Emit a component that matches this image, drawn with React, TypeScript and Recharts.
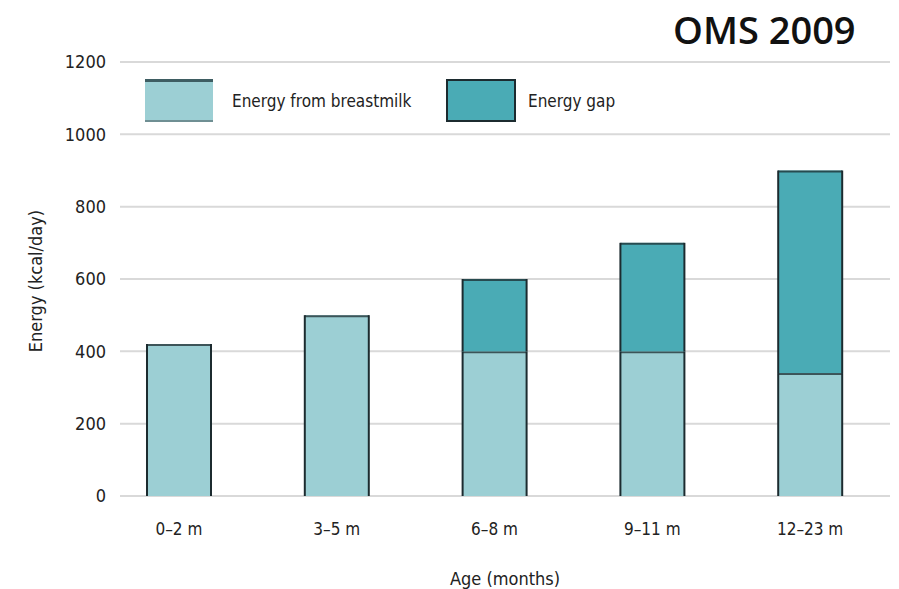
import React from 'react';
import { BarChart, Bar, XAxis, YAxis, CartesianGrid } from 'recharts';

// Age groups and daily energy needs (kcal/day)
const ages = ['0–2 m', '3–5 m', '6–8 m', '9–11 m', '12–23 m'];
const breastmilk = [420, 500, 400, 400, 340];
const energyGap = [0, 0, 200, 300, 560];
const yTicks = [0, 200, 400, 600, 800, 1000, 1200];
const seriesNames = ['Energy from breastmilk', 'Energy gap'];

const data = ages.map((age, i) => ({ age, breastmilk: breastmilk[i], gap: energyGap[i] }));

const LIGHT = '#9ccfd4';
const DARK = '#4aabb5';
const EDGE = '#1c2b2f';
const FONT = '"Liberation Sans Narrow", "DejaVu Sans Condensed", "Roboto", sans-serif';

const BarShape = (props: any) => {
  const { x, y, width, height, fill } = props;
  if (!height || height <= 0) return null;
  return (
    <g>
      <rect x={x} y={y} width={width} height={height} fill={fill} />
      <line x1={x} y1={y} x2={x} y2={y + height} stroke={EDGE} strokeWidth={2} />
      <line x1={x + width} y1={y} x2={x + width} y2={y + height} stroke={EDGE} strokeWidth={2} />
      <line x1={x} y1={y + 1} x2={x + width} y2={y + 1} stroke={EDGE} strokeOpacity={0.75} strokeWidth={2} />
    </g>
  );
};

const LegendBox = () => (
  <div
    style={{
      position: 'absolute',
      left: 145,
      top: 79,
      display: 'flex',
      alignItems: 'center',
      fontFamily: FONT,
      fontSize: 17,
      color: '#222',
    }}
  >
    <div style={{ width: 68, height: 38, background: LIGHT, borderTop: '3px solid #3e5d62', borderBottom: '2px solid #6f8f93' }} />
    <span style={{ marginLeft: 19, width: 214 }}>{seriesNames[0]}</span>
    <div style={{ width: 66, height: 39, background: DARK, border: `2px solid ${EDGE}` }} />
    <span style={{ marginLeft: 12 }}>{seriesNames[1]}</span>
  </div>
);

export default function App() {
  return (
    <div style={{ position: 'absolute', left: 0, top: 0, width: 899, height: 589, background: '#fff' }}>
      <BarChart
        width={899}
        height={589}
        data={data}
        margin={{ top: 62, right: 9, bottom: 0, left: 0 }}
        barSize={64}
      >
        <CartesianGrid vertical={false} stroke="#d9d9d9" strokeWidth={2} />
        <XAxis
          dataKey="age"
          axisLine={false}
          tickLine={false}
          height={93}
          padding={{ left: -20, right: 1 }}
          tickMargin={21}
          tick={{ fontFamily: FONT, fontSize: 17, fill: '#222' }}
          label={{ value: 'Age (months)', position: 'insideBottom', offset: 4, fontFamily: FONT, fontSize: 18, fill: '#222' }}
        />
        <YAxis
          width={120}
          domain={[0, 1200]}
          ticks={yTicks}
          axisLine={false}
          tickLine={false}
          tickMargin={8}
          tick={{ fontFamily: FONT, fontSize: 18, fill: '#222' }}
          label={{
            content: (p: any) => {
              const vb = p.viewBox || {};
              const cy = (vb.y || 62) + (vb.height || 434) / 2 + 2;
              return (
                <text
                  x={35}
                  y={cy}
                  transform={`rotate(-90, 35, ${cy})`}
                  textAnchor="middle"
                  dominantBaseline="central"
                  fontFamily={FONT}
                  fontSize={18}
                  fill="#222"
                >
                  Energy (kcal/day)
                </text>
              );
            },
          }}
        />
        <Bar dataKey="breastmilk" name={seriesNames[0]} stackId="a" fill={LIGHT} shape={BarShape} isAnimationActive={false} />
        <Bar dataKey="gap" name={seriesNames[1]} stackId="a" fill={DARK} shape={BarShape} isAnimationActive={false} />
      </BarChart>
      <LegendBox />
      <div
        style={{
          position: 'absolute',
          left: 673,
          top: 4,
          fontFamily: '"Open Sans", sans-serif',
          fontWeight: 600,
          fontSize: 38,
          lineHeight: '50px',
          color: '#111',
        }}
      >
        OMS 2009
      </div>
    </div>
  );
}
